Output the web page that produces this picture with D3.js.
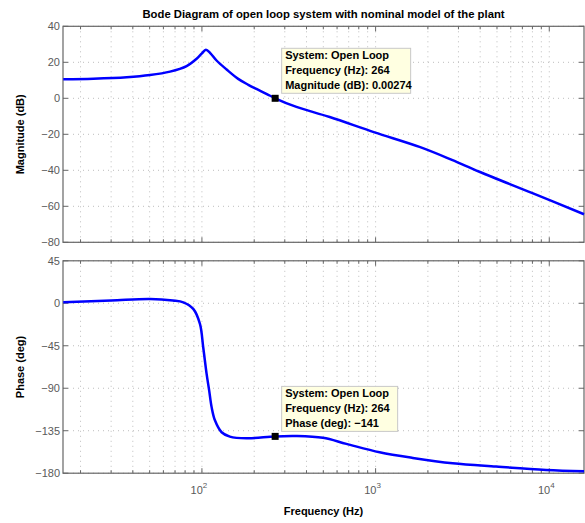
<!DOCTYPE html>
<html>
<head>
<meta charset="utf-8">
<script src="https://cdn.jsdelivr.net/npm/d3@7"></script>
<style>
  body { margin: 0; background: #fff; }
  text { font-family: "Liberation Sans", Arial, sans-serif; }
  .tick-label { fill: #5a5a5a; font-size: 11px; }
  .axis-title { fill: #000; font-size: 11px; font-weight: bold; }
  .tip-text { fill: #000; font-size: 11px; font-weight: bold; }
</style>
</head>
<body>
<div class="chart"></div>
<script>
var svgWidth = 585;
var svgHeight = 523;

// values
var magFreq = [15.9, 23.7, 36.9, 50.2, 65.5, 81.6, 93.2, 100, 105.4, 112, 121.4, 138.7, 161.7, 185, 206, 235, 264, 350, 544, 986, 1790, 2750, 3960, 8000, 15850];
var magDb = [10.6, 10.9, 11.7, 12.9, 14.8, 17.9, 22.0, 25.0, 27.0, 25.0, 21.0, 16.0, 10.8, 7.5, 5.2, 2.5, 0, -4.8, -10.4, -18.9, -27.0, -34.2, -40.8, -52.7, -64.4];

var phaseFreq = [15.9, 30, 50.2, 68.1, 78.1, 89.1, 97.4, 101.7, 106.4, 110.1, 113.7, 118.8, 129.8, 144.8, 180.7, 264, 349.8, 497.7, 678.6, 1055, 1638, 2781, 4940, 9575, 15850];
var phaseDeg = [1.1, 2.9, 4.5, 2.9, 1, -5.9, -21.8, -46.6, -74.8, -92.5, -110, -124, -136.6, -141.2, -143, -141, -140.6, -142.5, -148.9, -157.8, -163.8, -169.5, -173, -176.5, -178];

var magTicks = [40, 20, 0, -20, -40, -60, -80];
var phaseTicks = [45, 0, -45, -90, -135, -180];
var decadeTicks = [100, 1000, 10000];
var freqDomain = [Math.pow(10, 1.2), Math.pow(10, 4.2)];

var tipFreq = 264;
var tipMag = 0.00274;
var tipPhase = -141;
var magTipLines = ["System: Open Loop", "Frequency (Hz): 264", "Magnitude (dB): 0.00274"];
var phaseTipLines = ["System: Open Loop", "Frequency (Hz): 264", "Phase (deg): \u2212141"];

var plotLeft = 63;
var plotRight = 584;

var svg = d3.select(".chart")
    .append("svg")
    .attr("width", svgWidth)
    .attr("height", svgHeight);

var xScale = d3.scaleLog()
    .domain(freqDomain)
    .range([plotLeft, plotRight]);

var magScale = d3.scaleLinear().domain([-80, 40]).range([242.3, 26.3]);
var phaseScale = d3.scaleLinear().domain([-180, 45]).range([473.2, 260.8]);

// minor positions 2..9 in each decade
var minorTicks = [];
[10, 100, 1000, 10000].forEach(function(dec) {
    for (var k = 1; k <= 9; k++) {
        var v = dec * k;
        if (v > freqDomain[0] && v < freqDomain[1]) minorTicks.push(v);
    }
});

function fmt(v) {
    return v < 0 ? "\u2212" + Math.abs(v) : String(v);
}

function drawPanel(yScale, ticks, freqs, vals, tipVal, tipLines, boxW, label) {
    var top = yScale.range()[1];
    var bottom = yScale.range()[0];
    var g = svg.append("g");

    // grid
    g.selectAll(".vgrid")
        .data(minorTicks)
        .enter()
        .append("line")
        .attr("x1", d => xScale(d))
        .attr("x2", d => xScale(d))
        .attr("y1", top)
        .attr("y2", bottom)
        .attr("stroke", "#bdbdbd")
        .attr("stroke-width", 1)
        .attr("stroke-dasharray", "1,4");

    g.selectAll(".hgrid")
        .data(ticks)
        .enter()
        .append("line")
        .attr("x1", plotLeft)
        .attr("x2", plotRight)
        .attr("y1", d => yScale(d))
        .attr("y2", d => yScale(d))
        .attr("stroke", "#bdbdbd")
        .attr("stroke-width", 1)
        .attr("stroke-dasharray", "1,4");

    // x ticks, inside, top and bottom
    g.selectAll(".xminor")
        .data(minorTicks)
        .enter()
        .append("path")
        .attr("d", d => {
            var x = xScale(d);
            var len = decadeTicks.indexOf(d) >= 0 ? 5 : 3;
            return "M" + x + "," + bottom + "V" + (bottom - len) + "M" + x + "," + top + "V" + (top + len);
        })
        .attr("stroke", "#666")
        .attr("stroke-width", 1);

    // y ticks left and right
    g.selectAll(".ytick")
        .data(ticks)
        .enter()
        .append("path")
        .attr("d", d => {
            var y = yScale(d);
            return "M" + plotLeft + "," + y + "H" + (plotLeft + 5) + "M" + plotRight + "," + y + "H" + (plotRight - 5);
        })
        .attr("stroke", "#666")
        .attr("stroke-width", 1);

    g.selectAll(".ylabel")
        .data(ticks)
        .enter()
        .append("text")
        .attr("class", "tick-label")
        .attr("x", plotLeft - 3)
        .attr("y", d => yScale(d) + 4)
        .attr("text-anchor", "end")
        .text(d => fmt(d));

    // box
    g.append("rect")
        .attr("x", plotLeft)
        .attr("y", top)
        .attr("width", plotRight - plotLeft)
        .attr("height", bottom - top)
        .attr("fill", "none")
        .attr("stroke", "#666")
        .attr("stroke-width", 1.2);

    // curve
    var line = d3.line()
        .x(d => xScale(d[0]))
        .y(d => yScale(d[1]))
        .curve(d3.curveCatmullRom.alpha(0.5));

    g.append("path")
        .datum(d3.zip(freqs, vals))
        .attr("d", line)
        .attr("fill", "none")
        .attr("stroke", "#0000ff")
        .attr("stroke-width", 2.5);

    // data tip
    var mx = xScale(tipFreq);
    var my = yScale(tipVal);
    g.append("rect")
        .attr("x", mx + 6.5)
        .attr("y", my - 50)
        .attr("width", boxW)
        .attr("height", 45)
        .attr("fill", "#ffffe1")
        .attr("stroke", "#c8c8c8")
        .attr("stroke-width", 1);

    g.selectAll(".tip")
        .data(tipLines)
        .enter()
        .append("text")
        .attr("class", "tip-text")
        .attr("x", mx + 10)
        .attr("y", (d, i) => my - 39 + i * 15 + 0)
        .text(d => d);

    g.append("rect")
        .attr("x", mx - 3.5)
        .attr("y", my - 3.5)
        .attr("width", 7)
        .attr("height", 7)
        .attr("fill", "#000");

    svg.append("text")
        .attr("class", "axis-title")
        .attr("transform", "translate(24," + ((top + bottom) / 2) + ") rotate(-90)")
        .attr("text-anchor", "middle")
        .text(label);
}

drawPanel(magScale, magTicks, magFreq, magDb, tipMag, magTipLines, 129, "Magnitude (dB)");
drawPanel(phaseScale, phaseTicks, phaseFreq, phaseDeg, tipPhase, phaseTipLines, 116, "Phase (deg)");

// decade labels
var decLabels = svg.selectAll(".declabel")
    .data(decadeTicks)
    .enter()
    .append("text")
    .attr("class", "tick-label")
    .attr("x", d => xScale(d) - 3)
    .attr("y", 494)
    .attr("text-anchor", "middle");

decLabels.append("tspan").text("10");
decLabels.append("tspan")
    .attr("dy", -6)
    .attr("font-size", "8px")
    .text(d => Math.round(Math.log10(d)));

svg.append("text")
    .attr("class", "axis-title")
    .attr("x", (plotLeft + plotRight) / 2)
    .attr("y", 515)
    .attr("text-anchor", "middle")
    .text("Frequency (Hz)");

svg.append("text")
    .attr("class", "axis-title")
    .attr("x", (plotLeft + plotRight) / 2)
    .attr("y", 18)
    .attr("text-anchor", "middle")
    .style("font-size", "11.3px")
    .text("Bode Diagram of open loop system with nominal model of the plant");
</script>
</body>
</html>
